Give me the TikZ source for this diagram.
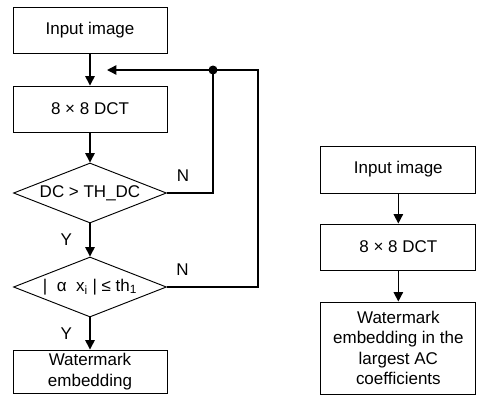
\documentclass[tikz,border=0pt]{standalone}
\usepackage{fontspec}
\setmainfont{Liberation Sans}
\usepackage{tikz}
\usetikzlibrary{arrows.meta,positioning,shapes.geometric,calc}

\begin{document}
\begin{tikzpicture}[
    box/.style={rectangle, draw, line width=0.8pt, minimum width=4.62cm, minimum height=1.38cm, inner sep=2pt, align=center, font=\fontsize{14.5}{17.5}\selectfont},
    test/.style={diamond, draw, line width=0.8pt, aspect=2.55, minimum width=4.59cm, minimum height=1.8cm, inner sep=0pt, font=\fontsize{14.5}{17.5}\selectfont},
    arr/.style={-{Triangle[length=8pt,width=8pt]}, line width=1.2pt},
    line/.style={-, line width=1.2pt},
    lab/.style={font=\fontsize{14.5}{17.5}\selectfont}
]
    \useasboundingbox (0,0) rectangle (14.37,-11.88);
    % left: with DC test
    \node[box] (in1) at (2.7,-0.915) {Input image};
    \node[box] (dct1) at (2.7,-3.27) {8 × 8 DCT};
    \node[test] (dc) at (2.7,-5.79) {DC > TH\_DC};
    \node[test] (alpha) at (2.7,-8.61) {|\ \ α\ \ x\textsubscript{i} | ≤ th\textsubscript{1}};
    \node[box, minimum height=1.29cm] (wm1) at (2.7,-11.145) {Watermark\\embedding};
    \node[circle, fill, inner sep=0pt, minimum size=0.27cm] (dot) at (6.39,-2.1) {};
    \coordinate (corner) at (7.74,-2.1);
    \coordinate (back) at (3.21,-2.1);
    \draw[arr] (in1) -- (dct1);
    \draw[arr] (dct1) -- (dc);
    \draw[arr] (dc) -- node[lab, left=0.4cm] {Y} (alpha);
    \draw[arr] (alpha) -- node[lab, left=0.4cm] {Y} (wm1);
    \draw[line] (dc.east) -- (dc.east -| dot) node[lab, pos=0.35, above=0.2cm] {N} -- (dot.center);
    \draw[line] (alpha.east) -- (alpha.east -| corner) node[lab, pos=0.17, above=0.2cm] {N} -- (corner) -- (dot.center);
    \draw[arr] (dot.center) -- (back);
    % right: largest AC coefficients
    \node[box, minimum width=4.65cm, minimum height=1.41cm] (in2) at (11.95,-5.085) {Input image};
    \node[box, minimum width=4.65cm] (dct2) at (11.95,-7.41) {8 × 8 DCT};
    \node[box, minimum width=4.65cm, minimum height=2.76cm] (wm2) at (11.95,-10.44) {Watermark\\embedding in the\\largest AC\\coefficients};
    \draw[arr] (in2) -- (dct2);
    \draw[arr] (dct2) -- (wm2);
\end{tikzpicture}
\end{document}
